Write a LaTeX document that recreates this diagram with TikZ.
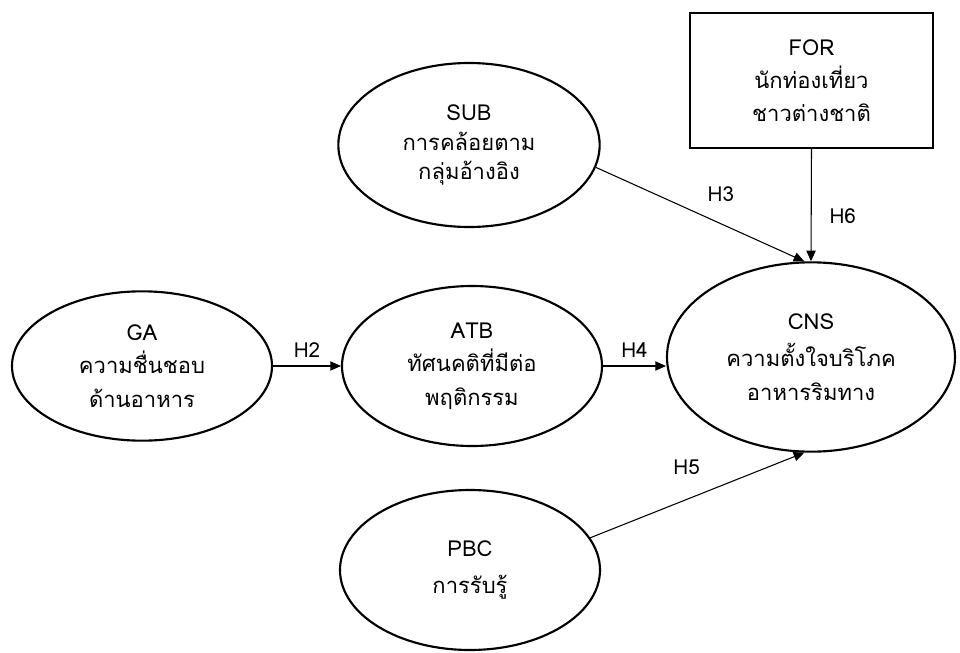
\documentclass[tikz,border=0pt]{standalone}
\usepackage{fontspec}
\setmainfont[Script=Thai]{Loma}
\usetikzlibrary{arrows.meta, positioning, shapes.geometric}

\tikzset{
  construct/.style={ellipse, draw, line width=1.6pt, align=center, inner sep=0pt,
                    font=\fontsize{16.5}{25}\selectfont},
  observed/.style={rectangle, draw, line width=1.9pt, align=center,
                   font=\fontsize{16.5}{25}\selectfont},
  path/.style={-{Triangle[length=8pt, width=7pt]}, line width=0.8pt},
  hyp/.style={font=\fontsize{15.5}{18}\selectfont}
}

\begin{document}
\begin{tikzpicture}[x=0.75pt, y=-0.75pt]
  \useasboundingbox (0,0) rectangle (960,653);

  \node[construct, minimum width=195pt, minimum height=112pt] (GA) at (142,366)
    {GA\\ความชื่นชอบ\\ด้านอาหาร};
  \node[construct, minimum width=195pt, minimum height=120pt] (ATB) at (472,366)
    {ATB\\ทัศนคติที่มีต่อ\\พฤติกรรม};
  \node[construct, minimum width=196pt, minimum height=123pt] (SUB) at (469,145)
    {SUB\\[-3pt]การคล้อยตาม\\[-3pt]กลุ่มอ้างอิง};
  \node[construct, minimum width=195pt, minimum height=120pt] (PBC) at (470,570)
    {PBC\\[3pt]การรับรู้};
  \node[construct, minimum width=216pt, minimum height=142pt] (CNS) at (811,357)
    {CNS\\[3pt]ความตั้งใจบริโภค\\อาหารริมทาง};
  \node[observed, minimum width=182pt, minimum height=101pt] (FOR) at (811.5,80.5)
    {FOR\\นักท่องเที่ยว\\ชาวต่างชาติ};

  % hypotheses
  \draw[path] (GA.east) -- node[hyp, above=3pt] {H2} (ATB.west);
  \draw[path] (ATB.east) -- node[hyp, above=3pt] {H4} (CNS.west |- ATB.east);
  \draw[path] (SUB.-10) -- node[hyp, pos=0.6, above=13pt] {H3} (CNS.94);
  \draw[path] (FOR.south) -- node[hyp, pos=0.6, right=10pt] {H6} (CNS.north);
  \draw[path] (PBC.15) -- node[hyp, pos=0.45, above=15pt] {H5} (CNS.-94);
\end{tikzpicture}
\end{document}
